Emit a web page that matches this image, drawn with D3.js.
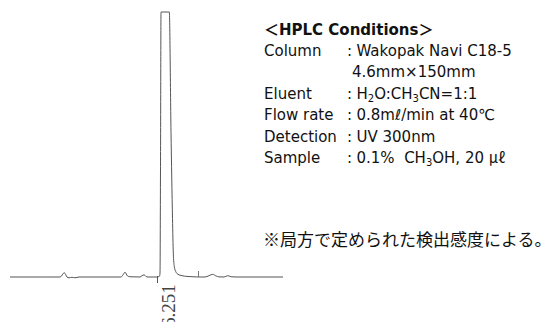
<!DOCTYPE html>
<html>
<head>
<meta charset="utf-8">
<script src="https://cdn.jsdelivr.net/npm/d3@7"></script>
<style>
  html, body { margin: 0; padding: 0; background: #fff; }
  svg { display: block; }
  text { white-space: pre; }
</style>
</head>
<body>
<svg id="chart" width="557" height="322"></svg>
<script>
// Chromatogram trace: retention time (min) vs detector response (% of full scale)
const retentionTimes = [
  0, 1.49, 2.02, 2.188, 2.297, 2.377, 2.498, 2.619, 2.78,
  4.473, 4.553, 4.634, 4.735, 4.835,
  5.238, 5.319, 5.399, 5.480, 5.560,
  5.923, 6.024, 6.044, 6.064, 6.085, 6.419, 6.487, 6.548, 6.580, 6.620, 6.681, 6.769, 6.930, 7.132, 7.414, 7.656,
  7.857, 8.018, 8.168, 8.301, 8.421, 8.624, 8.772, 8.906, 9.106, 11.0
];
const response = [
  0, 0, 0, 1.6, 0, -0.3, -0.1, -0.3, 0,
  0, 0.8, 1.8, 0.4, 0.1,
  0, 0.5, 0.8, 0.2, 0,
  0, 0.3, 1.5, 40, 100, 100, 55, 22, 9, 4, 2, 1, 0.5, 0.22, 0.06, 0,
  0, 0.5, 1.0, 0.4, 0.05, 0, 0.5, 0.1, 0, 0
];

// Labelled peak
const peakLabels = ["6.251"];
const peakTimes = [6.251];
const peakStartTimes = [5.923];
// Event marks on the baseline
const eventTimes = [7.575];

// HPLC conditions
const conditionsTitle = "＜HPLC Conditions＞";
const conditionLabels = ["Column", "", "Eluent", "Flow rate", "Detection", "Sample"];
const conditionValues = [
  "Wakopak Navi C18-5",
  "4.6mm×150mm",
  "H_2O:CH_3CN=1:1",
  "0.8mℓ/min at 40℃",
  "UV 300nm",
  "0.1%  CH_3OH, 20 ~μℓ"
];
const footNote = "※局方で定められた検出感度による。";

const svg = d3.select("#chart");
svg.append("rect").attr("width", 557).attr("height", 322).attr("fill", "#fff");

const x = d3.scaleLinear().domain([0, 11]).range([10, 283]);
const y = d3.scaleLinear().domain([0, 100]).range([277, 12]);

const trace = d3.zip(retentionTimes, response);
const line = d3.line()
  .x(d => x(d[0]))
  .y(d => y(d[1]))
  .curve(d3.curveMonotoneX);

svg.append("path")
  .datum(trace)
  .attr("d", line)
  .attr("fill", "none")
  .attr("stroke", "#555")
  .attr("stroke-width", 1);

// Peak start ticks below the baseline
svg.selectAll("line.peak-start")
  .data(peakStartTimes)
  .join("line")
  .attr("class", "peak-start")
  .attr("x1", d => Math.round(x(d)) + 0.5)
  .attr("x2", d => Math.round(x(d)) + 0.5)
  .attr("y1", y(0) - 1)
  .attr("y2", y(0) + 6)
  .attr("stroke", "#555")
  .attr("stroke-width", 1);

// Event marks above the baseline
svg.selectAll("line.event")
  .data(eventTimes)
  .join("line")
  .attr("class", "event")
  .attr("x1", d => Math.round(x(d)) + 0.5)
  .attr("x2", d => Math.round(x(d)) + 0.5)
  .attr("y1", y(0))
  .attr("y2", y(0) - 6)
  .attr("stroke", "#777")
  .attr("stroke-width", 1);

// Retention time labels, rotated
svg.selectAll("text.rt")
  .data(peakTimes)
  .join("text")
  .attr("class", "rt")
  .attr("transform", d => `translate(${x(d) + 10},327) rotate(-90)`)
  .attr("font-family", "'Liberation Serif', 'DejaVu Serif', serif")
  .attr("font-size", 19)
  .attr("fill", "#444")
  .text((d, i) => peakLabels[i]);

// Conditions block
const block = svg.append("g").attr("fill", "#111")
  .attr("font-family", "'DejaVu Sans', 'Noto Sans CJK JP', sans-serif")
  .attr("font-size", 15);

block.append("text")
  .attr("x", 264)
  .attr("y", 34.5)
  .attr("font-weight", "bold")
  .text(conditionsTitle);

const labelX = 264, colonX = 347, valueX = 356.5, rowY0 = 56, rowStep = 21.4;

conditionLabels.forEach((lab, i) => {
  const yy = rowY0 + i * rowStep;
  if (lab) {
    block.append("text").attr("x", labelX).attr("y", yy).text(lab);
    block.append("text").attr("x", colonX).attr("y", yy).text(":");
  }
  const t = block.append("text").attr("x", lab ? valueX : colonX + 5).attr("y", yy);
  // "_n" marks a subscript digit, "~" switches to the Japanese face
  const parts = conditionValues[i].split(/(_\d|~.+$)/).filter(s => s.length);
  let shift = 0;
  parts.forEach(p => {
    if (p.startsWith("_")) {
      t.append("tspan").attr("font-size", 10).attr("dy", 3 - shift).text(p.slice(1));
      shift = 3;
    } else if (p.startsWith("~")) {
      t.append("tspan").attr("dy", -shift)
        .attr("font-family", "'Noto Sans CJK JP', sans-serif")
        .text(p.slice(1));
      shift = 0;
    } else {
      t.append("tspan").attr("dy", -shift).text(p);
      shift = 0;
    }
  });
});

svg.append("text")
  .attr("x", 263)
  .attr("y", 245.5)
  .attr("font-family", "'Noto Sans CJK JP', sans-serif")
  .attr("font-size", 17)
  .attr("fill", "#111")
  .text(footNote);
</script>
</body>
</html>
